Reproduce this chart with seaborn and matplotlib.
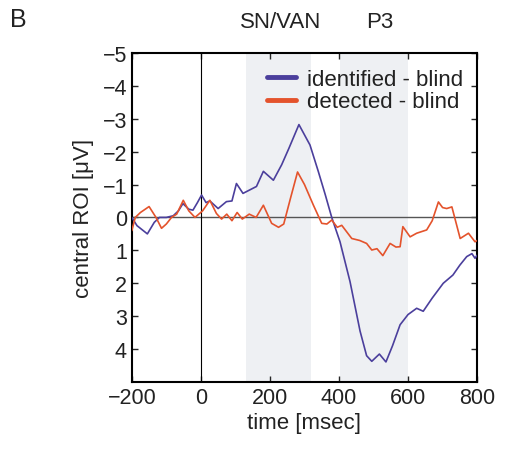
import numpy as np
import pandas as pd
import matplotlib
matplotlib.use("Agg")
import matplotlib.pyplot as plt
import seaborn as sns

# identified - blind (central ROI, microvolts, negative up)
t_ident = [-200, -185, -155, -135, -120, -100, -80, -65, -52, -35, -23, -10, 2, 15, 26,
           50, 74, 90, 103, 122, 161, 181, 210, 234, 255, 284, 316, 340, 360, 379,
           403, 432, 461, 480, 495, 517, 536, 555, 577, 600, 625, 644, 670, 702, 730,
           750, 770, 785, 794, 800]
v_ident = [0.0, 0.25, 0.5, 0.15, 0.0, 0.0, -0.05, -0.2, -0.42, -0.25, -0.22, -0.45, -0.68, -0.45, -0.5,
           -0.27, -0.48, -0.5, -1.03, -0.73, -0.94, -1.4, -1.13, -1.6, -2.1, -2.82, -2.2, -1.4, -0.7, 0.0,
           0.74, 1.95, 3.45, 4.2, 4.37, 4.15, 4.39, 3.9, 3.26, 2.95, 2.76, 2.85, 2.45, 2.0, 1.75,
           1.45, 1.19, 1.1, 1.24, 1.15]

# detected - blind
t_detect = [-200, -190, -175, -150, -130, -114, -100, -85, -70, -51, -35, -17, 5, 26, 45,
            60, 75, 90, 105, 120, 140, 160, 181, 205, 225, 240, 260, 280, 300, 326,
            350, 365, 379, 395, 408, 437, 460, 480, 495, 510, 527, 548, 565, 577, 585,
            606, 625, 654, 670, 688, 700, 712, 727, 751, 775, 794, 800]
v_detect = [0.4, 0.0, -0.15, -0.33, 0.0, 0.33, 0.2, 0.0, -0.1, -0.52, -0.2, 0.0, -0.2, -0.52, -0.12,
            0.05, -0.1, 0.1, -0.15, 0.05, -0.1, 0.0, -0.37, 0.18, 0.3, 0.2, -0.6, -1.38, -1.0, -0.37,
            0.18, 0.2, 0.08, 0.3, 0.24, 0.64, 0.7, 0.79, 0.99, 0.95, 1.16, 0.79, 0.9, 0.89, 0.28,
            0.59, 0.48, 0.38, 0.1, -0.47, -0.3, -0.27, -0.32, 0.64, 0.48, 0.74, 0.7]

windows = [(130, 319), (403, 600)]
window_names = ["SN/VAN", "P3"]
window_label_x = [232, 519]

df = pd.concat([
    pd.DataFrame({"time": t_ident, "amp": v_ident, "cond": "identified - blind"}),
    pd.DataFrame({"time": t_detect, "amp": v_detect, "cond": "detected - blind"}),
])

sns.set_style("ticks")
plt.rcParams['font.family'] = ['Liberation Sans', 'DejaVu Sans']
plt.rcParams['text.color'] = '#222222'
plt.rcParams['xtick.labelcolor'] = '#222222'
plt.rcParams['ytick.labelcolor'] = '#222222'
plt.rcParams['axes.labelcolor'] = '#222222'

fig = plt.figure(figsize=(5.07, 4.56), dpi=100)
ax = fig.add_axes([0.260, 0.160, 0.681, 0.722])

for (a, b) in windows:
    ax.axvspan(a, b, color="#eef0f3", lw=0, zorder=0)
ax.axhline(0, color="#555555", lw=1.0, zorder=1)
ax.axvline(0, color="black", lw=0.8, zorder=1)

sns.lineplot(data=df, x="time", y="amp", hue="cond",
             palette={"identified - blind": "#4b3f9c", "detected - blind": "#e4532c"},
             lw=1.2, ax=ax, sort=False, zorder=3)

ax.set_xlim(-200, 800)
ax.set_ylim(5, -5)
ax.set_xticks([-200, 0, 200, 400, 600, 800])
ax.set_yticks([-5, -4, -3, -2, -1, 0, 1, 2, 3, 4])
ax.tick_params(direction="in", top=True, right=True, labelsize=15.5, length=4, width=1)
for s in ax.spines.values():
    s.set_linewidth(1.5)
    s.set_color("black")
ax.set_xlabel("time [msec]", fontsize=16, labelpad=3)
ax.set_ylabel("central ROI [μV]", fontsize=16, labelpad=6)

leg = ax.legend(loc="upper right", frameon=False, fontsize=16, handlelength=1.3,
                handletextpad=0.5, borderaxespad=0, borderpad=0,
                bbox_to_anchor=(0.96, 0.95), labelspacing=0.05)
for h in leg.get_lines():
    h.set_linewidth(3.5)

for name, c in zip(window_names, window_label_x):
    ax.text(c, 1.094, name, transform=ax.get_xaxis_transform(), ha="center",
            va="center", fontsize=16)
fig.text(0.02, 0.956, "B", fontsize=18, ha="left", va="center")

fig.savefig("out.png", dpi=100)
